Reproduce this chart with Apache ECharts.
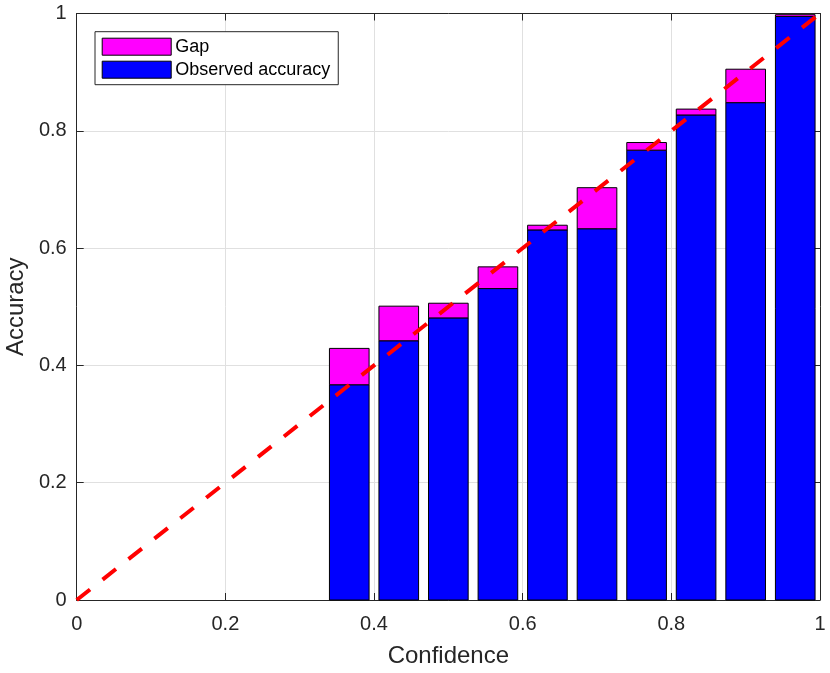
<!DOCTYPE html>
<html>
<head>
<meta charset="utf-8">
<script src="https://cdn.jsdelivr.net/npm/echarts@6/dist/echarts.min.js"></script>
<style>
html,body{margin:0;padding:0;background:#fff;}
#chart{width:830px;height:673px;}
</style>
</head>
<body>
<div id="chart"></div>
<script>
// Bin centres of the 15 confidence bins
var binCenters = [0.0333, 0.1, 0.1667, 0.2333, 0.3, 0.3667, 0.4333, 0.5, 0.5667, 0.6333, 0.7, 0.7667, 0.8333, 0.9, 0.9667];
// Observed accuracy per bin
var observedAccuracy = [0, 0, 0, 0, 0, 0.367, 0.442, 0.481, 0.531, 0.631, 0.633, 0.767, 0.827, 0.848, 0.995];
// Gap (stacked on top of observed accuracy)
var gapValues = [0, 0, 0, 0, 0, 0.062, 0.059, 0.025, 0.037, 0.008, 0.070, 0.013, 0.010, 0.057, 0.003];
// Diagonal (perfect calibration)
var diagonal = [[0, 0], [1, 1]];
var xTicks = [0, 0.2, 0.4, 0.6, 0.8, 1];

var FONT = 'Liberation Sans, Arial, Helvetica, sans-serif';
var AXC = '#262626';
var binWidth = 1 / binCenters.length;
var barFrac = 0.8;

var accData = binCenters.map(function (c, i) { return [c, 0, observedAccuracy[i]]; });
var gapData = binCenters.map(function (c, i) { return [c, observedAccuracy[i], observedAccuracy[i] + gapValues[i]]; });

function makeRender(color) {
  return function (params, api) {
    var c = api.value(0), b = api.value(1), t = api.value(2);
    if (t - b <= 0) return null;
    var hw = binWidth * barFrac / 2;
    var p1 = api.coord([c - hw, t]);
    var p2 = api.coord([c + hw, b]);
    return {
      type: 'rect',
      shape: { x: p1[0], y: p1[1], width: p2[0] - p1[0], height: p2[1] - p1[1] },
      style: { fill: color, stroke: '#000', lineWidth: 1 }
    };
  };
}

var chart = echarts.init(document.getElementById('chart'), null, { renderer: 'canvas' });
var axisCommon = {
  type: 'value', min: 0, max: 1, interval: 0.2,
  axisLine: { show: true, onZero: false, lineStyle: { color: AXC, width: 1 } },
  axisTick: { show: true, inside: true, length: 7, lineStyle: { color: AXC } }
};
chart.setOption({
  animation: false,
  backgroundColor: '#fff',
  grid: { left: 76.7, right: 10, top: 13.5, bottom: 73, containLabel: false, outerBoundsMode: 'none' },
  legend: {
    orient: 'vertical',
    left: 95, top: 31.7,
    padding: [6, 8, 6, 6.7],
    itemGap: 5,
    itemWidth: 69, itemHeight: 17,
    backgroundColor: '#fff',
    borderColor: AXC, borderWidth: 1,
    textStyle: { fontSize: 18, color: '#000', fontFamily: FONT, padding: [0, 0, 0, -1] },
    data: [
      { name: 'Gap', icon: 'rect', itemStyle: { color: '#ff00ff', borderColor: '#000', borderWidth: 1 } },
      { name: 'Observed accuracy', icon: 'rect', itemStyle: { color: '#0000ff', borderColor: '#000', borderWidth: 1 } }
    ]
  },
  xAxis: [
    Object.assign({}, axisCommon, {
      position: 'bottom',
      splitLine: { show: true, lineStyle: { color: '#e0e0e0', width: 1 } },
      axisLabel: { fontSize: 20, color: AXC, fontFamily: FONT, margin: 14,
        formatter: function (v) { return xTicks.indexOf(Math.round(v * 10) / 10) >= 0 ? String(Math.round(v * 10) / 10) : ''; } },
      name: 'Confidence', nameLocation: 'middle', nameGap: 44,
      nameTextStyle: { fontSize: 24, color: AXC, fontFamily: FONT }
    }),
    Object.assign({}, axisCommon, {
      position: 'top',
      splitLine: { show: false },
      axisLabel: { show: false }
    })
  ],
  yAxis: [
    Object.assign({}, axisCommon, {
      position: 'left',
      splitLine: { show: true, lineStyle: { color: '#e0e0e0', width: 1 } },
      axisLabel: { fontSize: 20, color: AXC, fontFamily: FONT, margin: 10,
        formatter: function (v) { return String(Math.round(v * 10) / 10); } },
      name: 'Accuracy', nameLocation: 'middle', nameGap: 48,
      nameTextStyle: { fontSize: 24, color: AXC, fontFamily: FONT }
    }),
    Object.assign({}, axisCommon, {
      position: 'right',
      splitLine: { show: false },
      axisLabel: { show: false }
    })
  ],
  series: [
    {
      name: 'Observed accuracy', type: 'custom', xAxisIndex: 0, yAxisIndex: 0,
      renderItem: makeRender('#0000ff'), data: accData, z: 2,
      itemStyle: { color: '#0000ff' }, encode: { x: 0, y: [1, 2] }
    },
    {
      name: 'Gap', type: 'custom', xAxisIndex: 0, yAxisIndex: 0,
      renderItem: makeRender('#ff00ff'), data: gapData, z: 3,
      itemStyle: { color: '#ff00ff' }, encode: { x: 0, y: [1, 2] }
    },
    {
      name: 'Perfect', type: 'line', xAxisIndex: 0, yAxisIndex: 0,
      data: diagonal, symbol: 'none', showSymbol: false, z: 5, silent: true,
      lineStyle: { color: '#ff0000', width: 4, type: [17, 16] }
    }
  ]
});
</script>
</body>
</html>
